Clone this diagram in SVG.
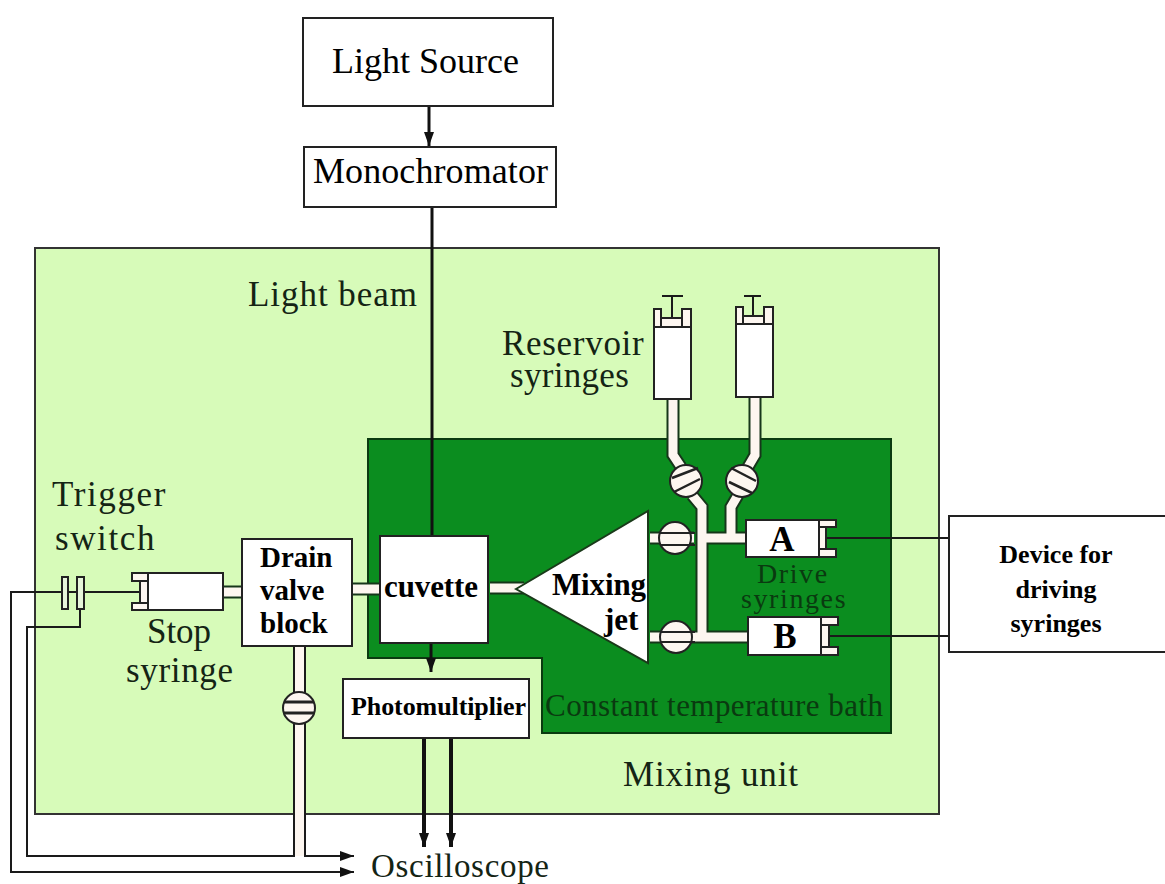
<svg xmlns="http://www.w3.org/2000/svg" width="1165" height="884" viewBox="0 0 1165 884">
<style>
.box{fill:#fff;stroke:#222;stroke-width:2}
.line{fill:none;stroke:#1a1a1a;stroke-width:2}
.thick{fill:none;stroke:#111;stroke-width:3}
.w{fill:#fdf6f0;stroke:#222;stroke-width:2}
.to{fill:none;stroke:#16361a;stroke-width:13}
.ti{fill:none;stroke:#fdf6f0;stroke-width:9}
.band{stroke:#222;stroke-width:2;fill:none}
text{font-family:"Liberation Serif","Times New Roman",serif;fill:#000}
.b{font-weight:bold;font-size:29px}
.c{font-weight:bold;font-size:26px;text-anchor:middle}
.g{font-size:35px;fill:#142414}
.d{font-size:28px;fill:#0a3a10}
</style>
<defs>
<marker id="as" markerWidth="14" markerHeight="10" refX="14" refY="5" orient="auto" markerUnits="userSpaceOnUse"><path d="M0 0L14 5L0 10Z" fill="#111"/></marker>
</defs>
<rect width="1165" height="884" fill="#fff"/>
<g id="mixing-unit"><rect x="35" y="248" width="904" height="566" fill="#d7fbb9" stroke="#333" stroke-width="2"/></g>
<g id="bath"><path d="M368 439H891V733H542V658H368Z" fill="#0b8d1f" stroke="#0a3a10" stroke-width="2"/></g>

<g id="connectors">
<path class="thick" d="M429 106V146" marker-end="url(#as)"/>
<path class="thick" d="M432 207V536"/>
<path class="thick" d="M431 644V672" marker-end="url(#as)"/>
<path class="thick" d="M424 738V847" marker-end="url(#as)" style="stroke-width:4"/>
<path class="thick" d="M451 738V847" marker-end="url(#as)" style="stroke-width:4"/>
<path class="line" d="M140 592H11V872H354" marker-end="url(#as)"/>
<path class="line" d="M80 608V627H27V856H294V720"/>
<path class="line" d="M305 720V856H354" marker-end="url(#as)"/>
<path class="line" d="M826 538H948"/>
<path class="line" d="M829 636H948"/>
</g>

<g id="tubes">
<rect x="295" y="646" width="9" height="210" fill="#fdf6f0"/>
<path class="line" d="M294 646V696M305 646V696"/>
<path class="to" d="M673 399V455L681 467"/>
<path class="ti" d="M673 399V455L681 467"/>
<path class="to" d="M755 397V455L748 467"/>
<path class="ti" d="M755 397V455L748 467"/>
<path class="to" d="M650 538H694"/>
<path class="ti" d="M650 538H694"/>
<path class="to" d="M692 495L702 507V637H750M650 637H702M738 495L731 507V538M706 538H750"/>
<path class="ti" d="M692 495L702 507V637H750M650 637H702M738 495L731 507V538M706 538H750"/>
<path class="to" d="M490 588H524"/>
<path class="ti" d="M490 588H524"/>
<path class="to" d="M223 592H243M352 589H381"/>
<path class="ti" d="M223 592H243M352 589H381"/>
</g>

<g id="light-source"><rect class="box" x="303" y="18" width="250" height="88"/><text x="332" y="73" font-size="36" textLength="187">Light Source</text></g>
<g id="monochromator"><rect class="box" x="304" y="147" width="252" height="60"/><text x="313" y="183" font-size="36" textLength="235">Monochromator</text></g>

<g id="cuvette"><rect x="380" y="536" width="108" height="107" fill="#fff" stroke="#222" stroke-width="2"/><text x="384" y="597" font-size="31" font-weight="bold" textLength="94">cuvette</text></g>
<g id="drain-valve"><rect class="box" x="242" y="539" width="110" height="107"/><text class="b" x="260" y="567">Drain</text><text class="b" x="260" y="600">valve</text><text class="b" x="260" y="633">block</text></g>
<g id="photomultiplier"><rect class="box" x="343" y="679" width="186" height="59"/><text x="351" y="715" font-size="26" font-weight="bold" textLength="175">Photomultiplier</text></g>

<g id="mixing-jet"><path d="M516 589L648 511V663Z" fill="#fff" stroke="#1a3a1a" stroke-width="2"/><text x="552" y="595" font-size="31" font-weight="bold" textLength="94">Mixing</text><text x="604" y="630" font-size="31" font-weight="bold">jet</text></g>

<g id="valves">
<g id="valve-top"><circle cx="675" cy="538" r="16" class="w"/><path class="band" d="M660 533H695M660 545H695"/></g>
<g id="valve-bottom"><circle cx="676" cy="637" r="16" class="w"/><path class="band" d="M660 632H695M660 642H695"/></g>
<g id="valve-res-left"><circle cx="686" cy="481" r="16" class="w"/><path class="band" d="M672 478L698 468M674 492L700 479" style="stroke-width:2.5"/></g>
<g id="valve-res-right"><circle cx="742" cy="481" r="16" class="w"/><path class="band" d="M731 468L756 481M729 482L752 493" style="stroke-width:2.5"/></g>
<g id="valve-drain"><ellipse cx="299" cy="708" rx="16" ry="16" class="w"/><path class="band" d="M284 702H314M284 713H314" style="stroke-width:3"/></g>
</g>

<g id="reservoir-left"><path class="line" d="M672 296V318M662 296H683"/><rect class="w" x="654" y="309" width="7" height="18"/><rect class="w" x="682" y="309" width="9" height="18"/><rect class="w" x="661" y="318" width="21" height="9"/><rect class="box" x="654" y="327" width="37" height="72"/></g>
<g id="reservoir-right"><path class="line" d="M753 296V316M744 296H761"/><rect class="w" x="736" y="307" width="7" height="17"/><rect class="w" x="764" y="307" width="9" height="17"/><rect class="w" x="743" y="316" width="21" height="8"/><rect class="box" x="736" y="324" width="37" height="73"/></g>

<g id="drive-a"><rect class="w" x="819" y="520" width="17" height="7"/><rect class="w" x="819" y="549" width="17" height="8"/><rect class="w" x="819" y="527" width="7" height="22"/><rect class="box" x="746" y="520" width="73" height="37"/><text x="782" y="551" font-size="35" font-weight="bold" text-anchor="middle">A</text></g>
<g id="drive-b"><rect class="w" x="821" y="617" width="17" height="8"/><rect class="w" x="821" y="647" width="17" height="8"/><rect class="w" x="821" y="625" width="8" height="22"/><rect class="box" x="748" y="617" width="73" height="38"/><text x="785" y="648" font-size="35" font-weight="bold" text-anchor="middle">B</text></g>

<g id="stop-syringe"><rect class="w" x="132" y="573" width="16" height="8"/><rect class="w" x="132" y="603" width="16" height="7"/><rect class="w" x="140" y="581" width="8" height="22"/><rect class="box" x="148" y="573" width="75" height="37"/></g>
<g id="trigger-switch"><rect x="62" y="577" width="6" height="32" fill="#e6f5da" stroke="#222" stroke-width="2"/><rect x="77" y="577" width="7" height="32" fill="#e6f5da" stroke="#222" stroke-width="2"/></g>

<g id="device"><rect class="box" x="949" y="516" width="218" height="136"/><text class="c" x="1056" y="563">Device for</text><text class="c" x="1056" y="598">driving</text><text class="c" x="1056" y="632">syringes</text></g>

<g id="labels">
<text class="g" x="248" y="306" textLength="169">Light beam</text>
<text class="g"><tspan x="502" y="355" letter-spacing="0.7">Reservoir</tspan><tspan x="510" y="387" letter-spacing="0.3">syringes</tspan></text>
<text class="g"><tspan x="52" y="506" letter-spacing="1.6">Trigger</tspan><tspan x="55" y="550" letter-spacing="1.6">switch</tspan></text>
<text class="g" x="147" y="643" textLength="64">Stop</text>
<text class="g" x="126" y="682" textLength="107">syringe</text>
<text class="d"><tspan x="757" y="583" letter-spacing="1.6">Drive</tspan><tspan x="741" y="608" letter-spacing="1.6">syringes</tspan></text>
<text class="d" style="font-size:31px" x="545" y="716" textLength="338">Constant temperature bath</text>
<text class="g" x="623" y="786" textLength="175">Mixing unit</text>
<text class="g" style="font-size:33px" x="371" y="877" textLength="178">Oscilloscope</text>
</g>
</svg>
